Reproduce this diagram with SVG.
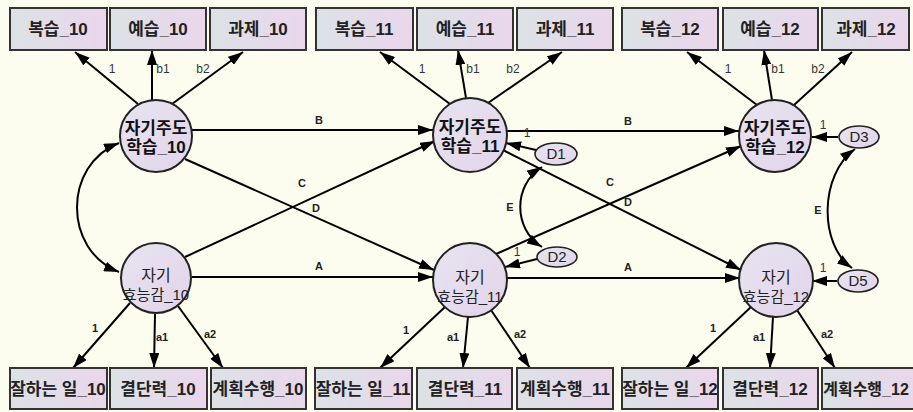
<svg xmlns="http://www.w3.org/2000/svg" width="913" height="412" viewBox="0 0 913 412">
<defs>
<linearGradient id="boxg" x1="0" y1="0" x2="1" y2="0">
<stop offset="0" stop-color="#dce2e6"/>
<stop offset="1" stop-color="#ead6ec"/>
</linearGradient>
<linearGradient id="circg" x1="0" y1="0" x2="1" y2="1">
<stop offset="0" stop-color="#e8e4f0"/>
<stop offset="1" stop-color="#e2d4ea"/>
</linearGradient>
<marker id="ah" markerUnits="userSpaceOnUse" markerWidth="16" markerHeight="10" refX="15" refY="5" orient="auto-start-reverse">
<path d="M0,0 L15,5 L0,10 z" fill="#000"/>
</marker>
<style>
.box{fill:url(#boxg);stroke:#333;stroke-width:2}
.lat{fill:url(#circg);stroke:#222;stroke-width:2}
.err{fill:url(#circg);stroke:#222;stroke-width:1.6}
.bt{font-family:"Liberation Sans","Noto Sans CJK KR",sans-serif;font-size:17px;font-weight:bold;fill:#222;text-anchor:middle}
.lt{font-family:"Liberation Sans","Noto Sans CJK KR",sans-serif;font-size:17px;font-weight:bold;fill:#111;text-anchor:middle}
.lt2{font-family:"Liberation Sans","Noto Sans CJK KR",sans-serif;font-size:16px;fill:#222;text-anchor:middle}
.lt3{font-family:"Liberation Sans","Noto Sans CJK KR",sans-serif;font-size:15px;fill:#222;text-anchor:middle}
.et{font-family:"Liberation Sans",sans-serif;font-size:15px;fill:#222;text-anchor:middle}
.c{fill:none;stroke:#000;stroke-width:2;marker-end:url(#ah)}
.cv{fill:none;stroke:#000;stroke-width:2;marker-start:url(#ah);marker-end:url(#ah)}
.lb{font-family:"Liberation Sans",sans-serif;font-size:12px;fill:#333;text-anchor:middle}
.lbb{font-family:"Liberation Sans",sans-serif;font-size:11px;font-weight:bold;fill:#222;text-anchor:middle}
</style>
</defs>
<rect width="913" height="412" fill="#fdfdef"/>

<g id="connectors">
<path class="c" d="M138,104 L75,52"/>
<path class="c" d="M152,100 L152,50"/>
<path class="c" d="M172,104 L243,52"/>
<path class="c" d="M450,104 L380,52"/>
<path class="c" d="M466,98 L458,50"/>
<path class="c" d="M488,103 L562,52"/>
<path class="c" d="M757,105 L687,52"/>
<path class="c" d="M772,100 L764,50"/>
<path class="c" d="M794,105 L852,52"/>
<path class="c" d="M130,303 L73,368"/>
<path class="c" d="M155,314 L154,368"/>
<path class="c" d="M178,306 L223,368"/>
<path class="c" d="M445,307 L380,368"/>
<path class="c" d="M468,317 L463,368"/>
<path class="c" d="M491,310 L530,368"/>
<path class="c" d="M751,307 L686,368"/>
<path class="c" d="M773,317 L770,368"/>
<path class="c" d="M797,310 L835,368"/>
<path class="c" d="M192,130 L433,130"/>
<path class="c" d="M507,131 L739,131"/>
<path class="c" d="M192,277 L433,277"/>
<path class="c" d="M507,278 L740,278"/>
<path class="c" d="M185,257 L435,141"/>
<path class="c" d="M185,159 L434,270"/>
<path class="c" d="M496,254 L741,146"/>
<path class="c" d="M503,150 L741,270"/>
<path class="c" d="M536,150 L506,143"/>
<path class="c" d="M537,259 L505,267"/>
<path class="c" d="M838,137 L812,137"/>
<path class="c" d="M837,281 L812,281"/>
<path class="cv" d="M119,143 C63,165 63,250 119,272"/>
<path class="cv" d="M542,167 C513,185 513,229 542,247"/>
<path class="cv" d="M855,149 C819,175 819,245 852,268"/>
<text class="lb" x="112" y="73">1</text>
<text class="lb" x="163" y="73">b1</text>
<text class="lb" x="203" y="73">b2</text>
<text class="lb" x="422" y="73">1</text>
<text class="lb" x="473" y="73">b1</text>
<text class="lb" x="513" y="73">b2</text>
<text class="lb" x="728" y="73">1</text>
<text class="lb" x="778" y="73">b1</text>
<text class="lb" x="818" y="73">b2</text>
<text class="lbb" x="95" y="332">1</text>
<text class="lbb" x="162" y="341">a1</text>
<text class="lbb" x="210" y="338">a2</text>
<text class="lbb" x="406" y="334">1</text>
<text class="lbb" x="453" y="341">a1</text>
<text class="lbb" x="520" y="338">a2</text>
<text class="lbb" x="713" y="332">1</text>
<text class="lbb" x="759" y="341">a1</text>
<text class="lbb" x="827" y="338">a2</text>
<text class="lbb" x="319" y="124">B</text>
<text class="lbb" x="628" y="125">B</text>
<text class="lbb" x="319" y="270">A</text>
<text class="lbb" x="628" y="271">A</text>
<text class="lbb" x="302" y="187">C</text>
<text class="lbb" x="316" y="212">D</text>
<text class="lbb" x="610" y="186">C</text>
<text class="lbb" x="628" y="206">D</text>
<text class="lbb" x="510" y="211">E</text>
<text class="lbb" x="818" y="214">E</text>
<text class="lb" x="527" y="137">1</text>
<text class="lb" x="517" y="256">1</text>
<text class="lb" x="823" y="129">1</text>
<text class="lb" x="823" y="272">1</text>
</g>

<g id="box-review10"><rect class="box" x="10" y="8" width="97" height="42"/><text class="bt" x="58" y="35">복습_10</text></g>
<g id="box-preview10"><rect class="box" x="110" y="8" width="96" height="42"/><text class="bt" x="158" y="35">예습_10</text></g>
<g id="box-task10"><rect class="box" x="210" y="8" width="96" height="42"/><text class="bt" x="258" y="35">과제_10</text></g>
<g id="box-review11"><rect class="box" x="316" y="8" width="97" height="42"/><text class="bt" x="364" y="35">복습_11</text></g>
<g id="box-preview11"><rect class="box" x="417" y="8" width="96" height="42"/><text class="bt" x="465" y="35">예습_11</text></g>
<g id="box-task11"><rect class="box" x="517" y="8" width="96" height="42"/><text class="bt" x="565" y="35">과제_11</text></g>
<g id="box-review12"><rect class="box" x="622" y="8" width="96" height="42"/><text class="bt" x="670" y="35">복습_12</text></g>
<g id="box-preview12"><rect class="box" x="723" y="8" width="95" height="42"/><text class="bt" x="770" y="35">예습_12</text></g>
<g id="box-task12"><rect class="box" x="822" y="8" width="87" height="42"/><text class="bt" x="866" y="35">과제_12</text></g>

<g id="box-good10"><rect class="box" x="10" y="368" width="97" height="41"/><text class="bt" x="58" y="395">잘하는 일_10</text></g>
<g id="box-decide10"><rect class="box" x="110" y="368" width="97" height="41"/><text class="bt" x="158" y="395">결단력_10</text></g>
<g id="box-plan10"><rect class="box" x="211" y="368" width="95" height="41"/><text class="bt" x="258" y="395">계획수행_10</text></g>
<g id="box-good11"><rect class="box" x="315" y="368" width="97" height="41"/><text class="bt" x="363" y="395">잘하는 일_11</text></g>
<g id="box-decide11"><rect class="box" x="417" y="368" width="95" height="41"/><text class="bt" x="465" y="395">결단력_11</text></g>
<g id="box-plan11"><rect class="box" x="517" y="368" width="96" height="41"/><text class="bt" x="565" y="395">계획수행_11</text></g>
<g id="box-good12"><rect class="box" x="622" y="368" width="96" height="41"/><text class="bt" x="670" y="395">잘하는 일_12</text></g>
<g id="box-decide12"><rect class="box" x="723" y="368" width="95" height="41"/><text class="bt" x="770" y="395">결단력_12</text></g>
<g id="box-plan12"><rect class="box" x="822" y="368" width="96" height="41"/><text class="bt" x="866" y="395" style="font-size:16px">계획수행_12</text></g>

<g id="sdl10"><circle class="lat" cx="156" cy="136" r="36"/><text class="lt" x="156" y="134">자기주도</text><text class="lt" x="156" y="153">학습_10</text></g>
<g id="sdl11"><circle class="lat" cx="470" cy="135" r="37"/><text class="lt" x="470" y="133">자기주도</text><text class="lt" x="470" y="152">학습_11</text></g>
<g id="sdl12"><circle class="lat" cx="775" cy="136" r="36"/><text class="lt" x="775" y="134">자기주도</text><text class="lt" x="775" y="153">학습_12</text></g>
<g id="se10"><circle class="lat" cx="156" cy="278" r="35"/><text class="lt2" x="156" y="281">자기</text><text class="lt3" x="156" y="300">효능감_10</text></g>
<g id="se11"><circle class="lat" cx="470" cy="280" r="37"/><text class="lt2" x="470" y="283">자기</text><text class="lt3" x="470" y="302">효능감_11</text></g>
<g id="se12"><circle class="lat" cx="776" cy="280" r="37"/><text class="lt2" x="776" y="283">자기</text><text class="lt3" x="776" y="302">효능감_12</text></g>

<g id="D1"><ellipse class="err" cx="556" cy="154" rx="21" ry="11"/><text class="et" x="556" y="159">D1</text></g>
<g id="D2"><ellipse class="err" cx="557" cy="257" rx="20" ry="10"/><text class="et" x="557" y="262">D2</text></g>
<g id="D3"><ellipse class="err" cx="859" cy="137" rx="20" ry="11"/><text class="et" x="859" y="142">D3</text></g>
<g id="D5"><ellipse class="err" cx="858" cy="281" rx="20" ry="11"/><text class="et" x="858" y="286">D5</text></g>
</svg>
